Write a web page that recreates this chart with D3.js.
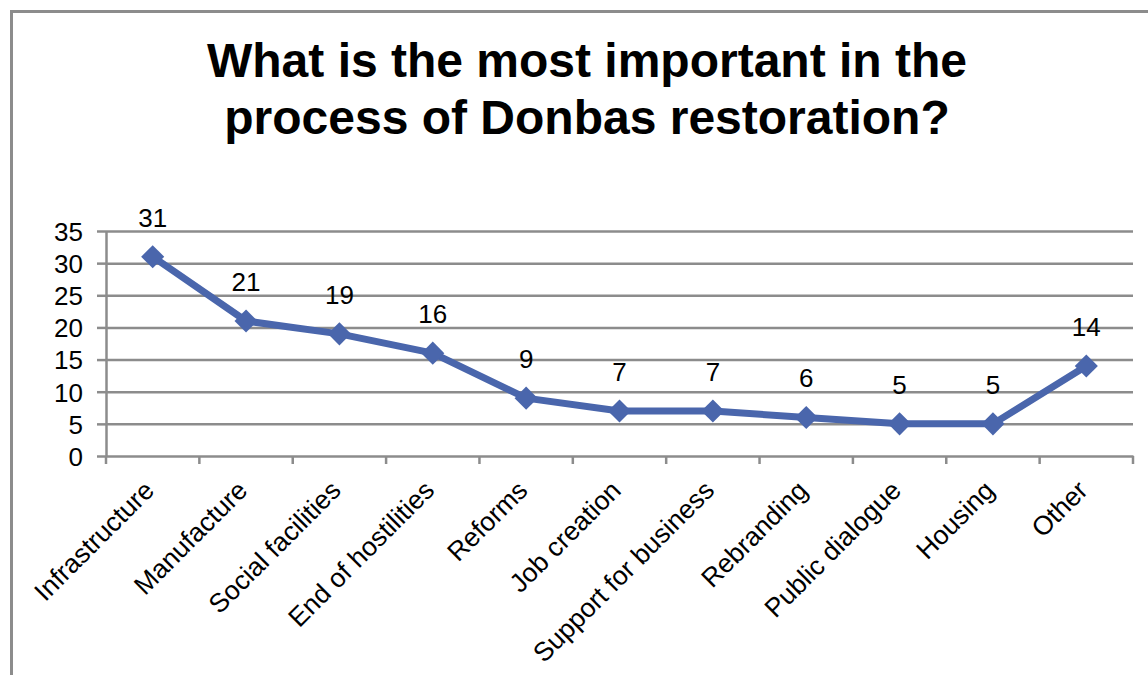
<!DOCTYPE html>
<html>
<head>
<meta charset="utf-8">
<script src="https://cdn.jsdelivr.net/npm/d3@7"></script>
<style>
body{margin:0;background:#fff;}
svg text{font-family:"Liberation Sans",Arial,sans-serif;fill:#000;}
</style>
</head>
<body>
<div id="chart"></div>
<script>
const width = 1148;
const height = 675;
const margin = {top:231,right:15,bottom:219,left:106};

const categories = ["Infrastructure","Manufacture","Social facilities","End of hostilities","Reforms","Job creation","Support for business","Rebranding","Public dialogue","Housing","Other"];
const values = [31,21,19,16,9,7,7,6,5,5,14];
const yTicks = [0,5,10,15,20,25,30,35];
const titleLines = ["What is the most important in the","process of Donbas restoration?"];

const data = categories.map((c,i)=>({cat:c,val:values[i]}));

const svg = d3.select("#chart")
.append("svg")
.attr("width",width)
.attr("height",height);

// frame (only top and left edges visible)
svg.append("path")
.attr("d",`M11.5,${height} V11.5 H${width}`)
.attr("fill","none")
.attr("stroke","#8c8c8c")
.attr("stroke-width",3);

// TITLE
svg.append("text")
.attr("x",587)
.attr("y",77)
.attr("text-anchor","middle")
.style("font-size","48px")
.style("font-weight","bold")
.selectAll("tspan")
.data(titleLines)
.enter()
.append("tspan")
.attr("x",587)
.attr("dy",(d,i)=>i===0?0:57)
.text(d=>d);

const x = d3.scaleBand()
.domain(categories)
.range([margin.left,width-margin.right]);

const y = d3.scaleLinear()
.domain([0,35])
.range([height-margin.bottom,margin.top]);

// GRID
svg.append("g")
.attr("transform",`translate(${margin.left},0)`)
.call(
d3.axisLeft(y)
.tickValues(yTicks.slice(1))
.tickSize(-(width-margin.left-margin.right))
.tickFormat("")
)
.call(g=>g.select(".domain").remove())
.call(g=>g.selectAll("line").attr("stroke","#8c8c8c").attr("stroke-width",2.5));

// Y AXIS
svg.append("g")
.attr("transform",`translate(${margin.left},0)`)
.call(d3.axisLeft(y).tickValues(yTicks).tickSize(9).tickSizeOuter(0).tickPadding(14))
.call(g=>g.select(".domain").attr("stroke","#8c8c8c").attr("stroke-width",2.5))
.call(g=>g.selectAll("line").attr("stroke","#8c8c8c").attr("stroke-width",2.5))
.call(g=>g.selectAll("text").style("font-size","26px").attr("dy","0.36em"));

// X AXIS
const xAxis = svg.append("g")
.attr("transform",`translate(0,${height-margin.bottom})`)
.call(d3.axisBottom(x).tickSize(0).tickSizeOuter(0).tickFormat(""))
.call(g=>g.select(".domain").attr("stroke","#8c8c8c").attr("stroke-width",2.5));

// category boundary ticks
xAxis.selectAll("line.bound")
.data(d3.range(categories.length+1))
.enter()
.append("line")
.attr("class","bound")
.attr("x1",i=>i<categories.length?x(categories[i]):x.range()[1])
.attr("x2",i=>i<categories.length?x(categories[i]):x.range()[1])
.attr("y1",0)
.attr("y2",8)
.attr("stroke","#8c8c8c")
.attr("stroke-width",2.5);

// rotated category labels
svg.selectAll("text.xlab")
.data(data)
.enter()
.append("text")
.attr("class","xlab")
.attr("transform",d=>`translate(${x(d.cat)+x.bandwidth()/2+3},${height-margin.bottom+36}) rotate(-45)`)
.attr("text-anchor","end")
.style("font-size","26.5px")
.text(d=>d.cat);

// LINE
const line = d3.line()
.x(d=>x(d.cat)+x.bandwidth()/2)
.y(d=>y(d.val));

svg.append("path")
.datum(data)
.attr("fill","none")
.attr("stroke","#4a66ac")
.attr("stroke-width",7)
.attr("stroke-linejoin","round")
.attr("d",line);

// MARKERS
svg.selectAll("path.mark")
.data(data)
.enter()
.append("path")
.attr("class","mark")
.attr("d",d3.symbol().type(d3.symbolDiamond2).size(340))
.attr("transform",d=>`translate(${x(d.cat)+x.bandwidth()/2},${y(d.val)})`)
.attr("fill","#4a66ac");

// DATA LABELS
svg.selectAll("text.vlab")
.data(data)
.enter()
.append("text")
.attr("class","vlab")
.attr("x",d=>x(d.cat)+x.bandwidth()/2)
.attr("y",d=>y(d.val)-30)
.attr("text-anchor","middle")
.style("font-size","26px")
.text(d=>d.val);
</script>
</body>
</html>
